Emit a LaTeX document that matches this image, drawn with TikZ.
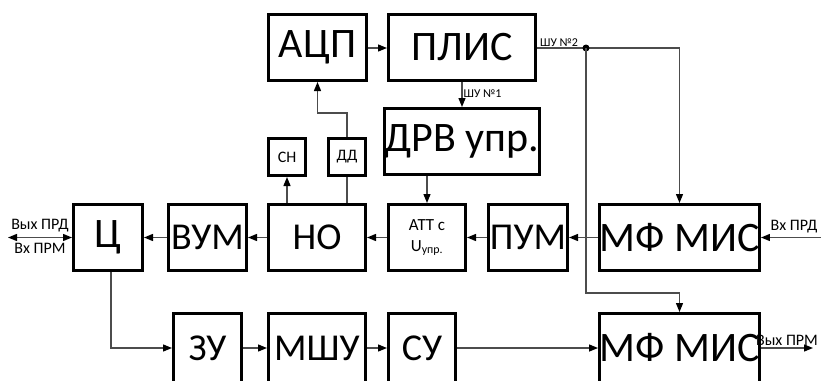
\documentclass[tikz,border=0pt]{standalone}
\usepackage{fontspec}
\setmainfont{Carlito}
\usetikzlibrary{arrows.meta,calc}
\begin{document}
\begin{tikzpicture}[x=1pt,y=-1pt,
  blk/.style={draw=black,line width=3pt,rectangle,inner sep=0pt,align=center},
  big/.style={font=\fontsize{42}{46}\selectfont},
  mid/.style={font=\fontsize{38}{42}\selectfont},
  sml/.style={font=\fontsize{16}{19}\selectfont},
  lbl/.style={font=\fontsize{16}{18}\selectfont,inner sep=1pt},
  tiny/.style={font=\fontsize{12}{14}\selectfont,inner sep=1pt},
  con/.style={draw=black!70,line width=1.3pt},
  arr/.style={con,-{Triangle[length=9pt,width=7pt,fill=black,color=black]}},
  darr/.style={con,{Triangle[length=9pt,width=7pt,fill=black,color=black]}-{Triangle[length=9pt,width=7pt,fill=black,color=black]}}
]
\clip (0,0) rectangle (821,380);
\fill[white] (0,0) rectangle (821,380);
% top
\node[blk,big,minimum width=98,minimum height=66] (adc) at (317.5,47.5) {АЦП};
\node[blk,big,minimum width=147,minimum height=66] (plis) at (462,47.5) {ПЛИС};
\node[blk,big,minimum width=147,minimum height=66] (drv) at (462,141.5) {ДРВ упр.};
\node[blk,sml,minimum width=37,minimum height=37] (sn) at (287,157) {СН};
\node[blk,sml,minimum width=37,minimum height=37] (dd) at (347,157) {ДД};
% middle
\node[blk,big,minimum width=69,minimum height=66] (c) at (108,237.5) {Ц};
\node[blk,mid,minimum width=78,minimum height=66] (vum) at (207.5,237.5) {ВУМ};
\node[blk,mid,minimum width=97,minimum height=66] (no) at (317,237.5) {НО};
\node[blk,font=\fontsize{17}{21}\selectfont,minimum width=77,minimum height=66] (att) at (427,237.5) {АТТ с\\U\textsubscript{упр.}};
\node[blk,mid,minimum width=79,minimum height=66] (pum) at (528,237.5) {ПУМ};
\node[blk,big,minimum width=146,minimum height=66] (mf1) at (679.5,237.5) {МФ МИС};
% bottom
\node[blk,mid,minimum width=68,minimum height=69] (zu) at (207.5,348) {ЗУ};
\node[blk,mid,minimum width=97,minimum height=69] (mshu) at (317,348) {МШУ};
\node[blk,mid,minimum width=67,minimum height=69] (su) at (422,348) {СУ};
\node[blk,big,minimum width=146,minimum height=69] (mf2) at (679.5,348) {МФ МИС};
% coordinates
\coordinate (dot) at (586,48);
\coordinate (vxprd) at (821,237.5);
\coordinate (outl) at (8,237.5);
\coordinate (vyxprm) at (813,348);
% connectors
\draw[arr] (adc.east |- 0,48) -- (plis.west |- 0,48);
\draw[arr] (plis.south) -- node[tiny,anchor=west,pos=0.45]{ШУ №1} (drv.north);
\draw[con] (plis.east |- dot) -- node[tiny,anchor=south,pos=0.45]{ШУ №2} (dot);
\draw[arr] (dot) -| (mf1.north);
\fill (dot) circle (3.5);
\draw[arr] (dot) -- (586,293) -| (mf2.north);
\draw[arr] (vxprd) -- node[lbl,anchor=south,pos=0.45,yshift=3pt]{Вх ПРД} (mf1.east);
\draw[arr] (mf1.west) -- (pum.east);
\draw[arr] (pum.west) -- (att.east);
\draw[arr] (att.west) -- (no.east);
\draw[arr] (no.west) -- (vum.east);
\draw[arr] (vum.west) -- (c.east);
\draw[darr] (outl) -- node[lbl,anchor=south,yshift=4pt]{Вых ПРД} node[lbl,anchor=north,yshift=-4pt]{Вх ПРМ} (c.west);
\draw[arr] (no.north -| sn.south) -- (sn.south);
\draw[con] (dd.south) -- (no.north -| dd.south);
\draw[arr] (dd.north) -- (347,113) -| (adc.south);
\draw[arr] (drv.south -| att.north) -- (att.north);
\draw[arr] ([xshift=3pt]c.south) |- (zu.west);
\draw[arr] (zu.east) -- (mshu.west);
\draw[arr] (mshu.east) -- (su.west);
\draw[arr] (su.east) -- (mf2.west);
\draw[arr] (mf2.east) -- node[lbl,anchor=south,pos=0.5,yshift=1pt]{Вых ПРМ} (vyxprm);
\end{tikzpicture}
\end{document}
